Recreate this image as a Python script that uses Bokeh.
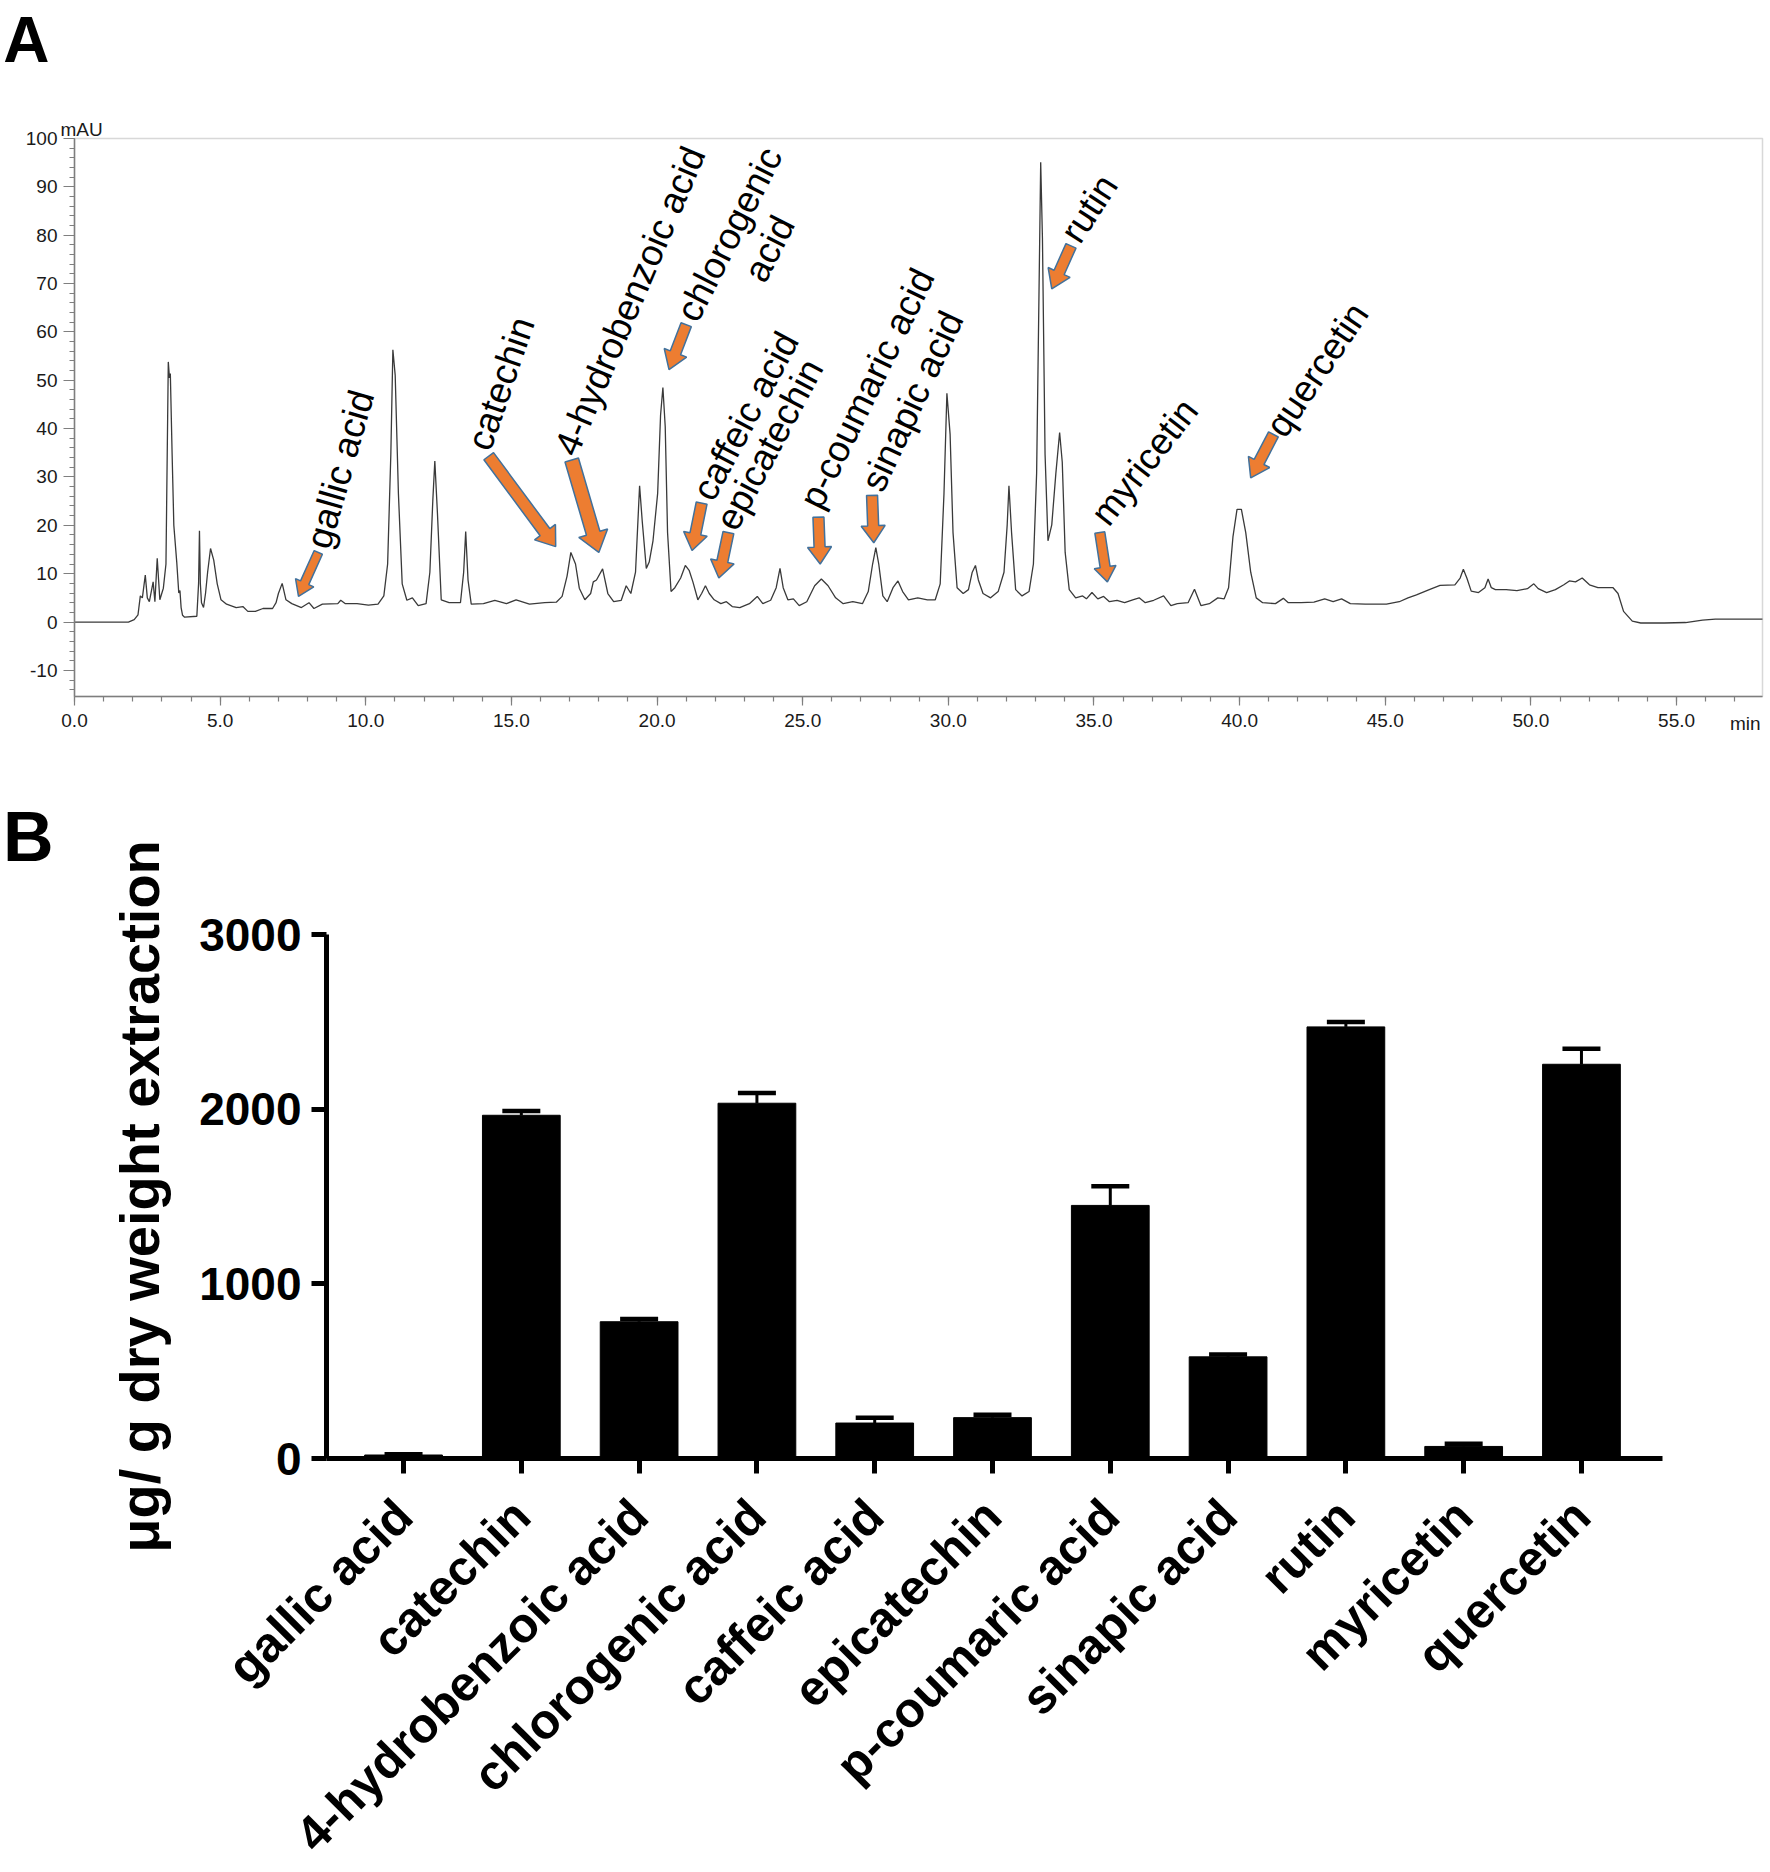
import math
from bokeh.plotting import figure
from bokeh.models import (ColumnDataSource, FixedTicker, Range1d, Label, Whisker, TeeHead, BoxAnnotation)
from bokeh.layouts import column
from bokeh.embed import file_html
from bokeh.resources import INLINE
from bokeh.core.properties import value

# ---------------- Panel A data: HPLC chromatogram ----------------
time_min = [0.00, 1.85, 2.05, 2.18, 2.26, 2.33, 2.43, 2.50, 2.57, 2.70, 2.76, 2.84, 2.93, 3.05, 3.14,
            3.22, 3.26, 3.29, 3.35, 3.41, 3.51, 3.58, 3.62, 3.66, 3.71, 3.78, 4.20, 4.26, 4.29, 4.32,
            4.36, 4.43, 4.50, 4.57, 4.67, 4.78, 4.90, 5.03, 5.22, 5.55, 5.78, 5.95, 6.21, 6.47, 6.80,
            6.92, 7.00, 7.13, 7.26, 7.46, 7.79, 8.05, 8.22, 8.51, 9.04, 9.14, 9.30, 9.70, 10.09, 10.42,
            10.62, 10.75, 10.86, 10.93, 11.01, 11.12, 11.25, 11.41, 11.60, 11.80, 12.07, 12.20, 12.30,
            12.37, 12.46, 12.59, 12.86, 13.25, 13.36, 13.43, 13.51, 13.62, 14.04, 14.43, 14.83, 15.16,
            15.62, 16.14, 16.54, 16.74, 16.91, 17.04, 17.20, 17.33, 17.52, 17.72, 17.81, 17.92, 18.13,
            18.31, 18.51, 18.77, 18.94, 19.10, 19.26, 19.40, 19.49, 19.63, 19.73, 19.86, 20.02, 20.12,
            20.20, 20.28, 20.36, 20.48, 20.61, 20.81, 20.97, 21.10, 21.23, 21.40, 21.53, 21.66, 21.79,
            21.96, 22.19, 22.38, 22.58, 22.84, 23.17, 23.44, 23.63, 23.90, 24.09, 24.22, 24.33, 24.49,
            24.68, 24.88, 25.14, 25.41, 25.64, 25.87, 26.13, 26.39, 26.72, 27.05, 27.25, 27.40, 27.51,
            27.61, 27.75, 27.90, 28.10, 28.27, 28.43, 28.63, 28.95, 29.28, 29.55, 29.72, 29.85, 29.95,
            30.06, 30.16, 30.30, 30.51, 30.69, 30.82, 30.93, 31.03, 31.19, 31.45, 31.71, 31.91, 32.02,
            32.08, 32.17, 32.31, 32.53, 32.77, 32.92, 33.03, 33.11, 33.17, 33.23, 33.32, 33.42, 33.55,
            33.69, 33.82, 33.91, 34.01, 34.15, 34.37, 34.61, 34.74, 34.93, 35.13, 35.33, 35.53, 35.79,
            36.05, 36.33, 36.55, 36.76, 37.05, 37.39, 37.64, 37.86, 38.23, 38.45, 38.67, 38.96, 39.25,
            39.47, 39.62, 39.77, 39.91, 40.06, 40.21, 40.38, 40.57, 40.79, 41.23, 41.50, 41.67, 42.11,
            42.55, 42.92, 43.21, 43.50, 43.80, 44.31, 45.04, 45.48, 45.78, 46.07, 46.51, 46.88, 47.39,
            47.57, 47.68, 47.80, 47.95, 48.20, 48.42, 48.53, 48.64, 48.78, 49.15, 49.52, 49.88, 50.10,
            50.25, 50.54, 50.84, 51.13, 51.32, 51.53, 51.76, 52.01, 52.30, 52.82, 52.99, 53.18, 53.48,
            53.77, 54.58, 55.31, 55.89, 56.33, 57.95]
absorbance_mau = [0.0, 0.0, 0.5, 1.5, 5.4, 5.0, 9.7, 5.0, 4.2, 8.3, 4.2, 13.2, 4.6, 7.0, 12.0,
                  53.8, 50.5, 51.4, 35.0, 20.0, 12.4, 6.0, 6.5, 3.0, 1.4, 1.0, 1.2, 8.0, 18.9, 8.0,
                  4.0, 3.0, 6.0, 10.3, 15.2, 12.8, 7.9, 4.6, 3.7, 3.0, 3.2, 2.2, 2.2, 2.8, 2.8,
                  4.0, 5.9, 8.0, 4.6, 3.8, 3.0, 4.0, 2.8, 3.7, 3.8, 4.5, 3.8, 3.8, 3.5, 3.7,
                  5.4, 12.0, 34.7, 56.3, 51.0, 26.6, 7.9, 4.5, 5.0, 3.4, 3.8, 10.3, 25.0,
                  33.3, 22.5, 4.6, 4.0, 4.0, 10.3, 18.7, 8.7, 3.7, 3.8, 4.5, 3.8, 4.6,
                  3.7, 4.0, 4.1, 5.3, 9.5, 14.4, 12.0, 7.0, 4.6, 5.9, 8.3, 8.7, 11.0,
                  5.9, 4.2, 4.5, 7.5, 5.9, 10.3, 28.2, 20.9, 11.1, 12.4, 16.8, 26.6, 42.8,
                  48.5, 40.4, 18.5, 6.3, 7.1, 9.1, 11.7, 10.7, 8.3, 4.6, 5.9, 7.5, 5.9,
                  4.6, 3.8, 4.2, 3.2, 3.0, 3.8, 5.3, 3.8, 4.5, 7.1, 11.1, 7.1, 4.6,
                  4.8, 3.4, 4.2, 7.5, 8.9, 7.5, 5.0, 3.8, 4.2, 3.8, 6.3, 12.0, 15.4,
                  12.0, 5.4, 4.2, 7.1, 8.5, 6.3, 4.6, 5.0, 4.6, 4.6, 7.9, 26.6, 47.3,
                  38.8, 18.5, 7.1, 5.9, 6.7, 10.3, 11.7, 8.7, 5.9, 5.0, 6.3, 10.3, 20.1,
                  28.2, 18.5, 6.7, 5.4, 6.3, 12.0, 30.7, 67.2, 95.1, 79.4, 34.7, 16.8, 20.1,
                  30.7, 39.2, 33.1, 14.4, 6.7, 5.0, 5.4, 4.8, 6.1, 4.8, 5.3, 4.2, 4.5,
                  4.0, 4.6, 5.0, 4.0, 4.5, 5.4, 3.4, 3.8, 4.0, 6.8, 3.4, 3.8, 5.0,
                  4.8, 7.1, 17.6, 23.3, 23.3, 18.5, 10.3, 5.0, 4.0, 3.8, 4.9, 4.0, 4.0,
                  4.1, 4.8, 4.2, 4.8, 3.8, 3.7, 3.7, 4.2, 5.0, 5.6, 6.7, 7.6, 7.7,
                  9.1, 10.9, 9.1, 6.4, 6.1, 7.1, 8.9, 7.1, 6.7, 6.7, 6.5, 6.9, 7.9,
                  6.9, 6.1, 6.7, 7.7, 8.5, 8.3, 9.1, 7.7, 7.1, 7.1, 5.9, 2.2, 0.2,
                  -0.2, -0.2, -0.1, 0.4, 0.6, 0.6]

x_ticks_a = [0, 5, 10, 15, 20, 25, 30, 35, 40, 45, 50, 55]
x_tick_labels_a = ["0.0", "5.0", "10.0", "15.0", "20.0", "25.0", "30.0", "35.0", "40.0", "45.0", "50.0", "55.0"]
y_ticks_a = [-10, 0, 10, 20, 30, 40, 50, 60, 70, 80, 90, 100]
y_tick_labels_a = ["-10", "0", "10", "20", "30", "40", "50", "60", "70", "80", "90", "100"]

# peak annotations (label centre in data units, rotation in degrees)
peak_labels = ["gallic acid", "catechin", "4-hydrobenzoic acid", "chlorogenic", "acid", "caffeic acid",
               "epicatechin", "p-coumaric acid", "sinapic acid", "rutin", "myricetin", "quercetin"]
peak_label_t = [9.12, 14.64, 19.07, 22.48, 23.85, 23.04, 23.86, 27.21, 28.76, 34.83, 36.73, 42.66]
peak_label_v = [31.6, 49.3, 66.4, 80.2, 77.2, 42.6, 36.7, 48.3, 45.7, 85.5, 33.1, 52.2]
peak_label_angle = [74, 71, 67, 63, 63, 62, 62, 64, 65, 57, 52, 56]

# arrows: tail -> tip in data units
arrow_tail_t = [8.37, 14.22, 17.07, 21.00, 21.53, 22.45, 25.54, 27.38, 34.21, 35.20, 41.16]
arrow_tail_v = [14.4, 34.3, 33.5, 61.5, 24.6, 18.5, 21.7, 26.2, 77.8, 18.5, 38.8]
arrow_tip_t = [7.69, 16.52, 18.00, 20.41, 21.20, 22.12, 25.60, 27.44, 33.55, 35.46, 40.38]
arrow_tip_v = [5.3, 15.6, 14.4, 52.2, 14.8, 9.1, 12.0, 16.4, 68.9, 8.3, 29.8]
arrow_shaft_px = [9, 12, 14, 11, 11, 11, 11, 11, 11, 10, 11]
arrow_head_px = [20, 26, 30, 24, 24, 24, 24, 24, 24, 22, 24]
arrow_headlen_px = [15, 18, 20, 18, 17, 17, 17, 17, 18, 15, 18]

# ---------------- Panel B data ----------------
compounds = ["gallic acid", "catechin", "4-hydrobenzoic acid", "chlorogenic acid", "caffeic acid",
             "epicatechin", "p-coumaric acid", "sinapic acid", "rutin", "myricetin", "quercetin"]
content_mean = [20, 1965, 783, 2034, 203, 234, 1449, 582, 2471, 69, 2257]
content_sem = [4, 25, 15, 58, 30, 17, 109, 13, 28, 15, 89]
y_ticks_b = [0, 1000, 2000, 3000]

FONT = "Liberation Sans"
GRAY = "#7f7f7f"

# ---------------- Panel A figure (frame = whole canvas, axes placed inside) ----------------
WA, HA = 1770, 770
A_left, A_right, A_top, A_bottom = 74, 1762, 138, 696          # pixel box of the chromatogram
t0, t1, v0, v1 = 0.0, 57.95, -15.4, 100.0
sxa = (A_right - A_left) / (t1 - t0)
sya = (A_bottom - A_top) / (v1 - v0)
pa = figure(width=WA, height=HA,
            x_range=Range1d(t0 - A_left / sxa, t1 + (WA - A_right) / sxa),
            y_range=Range1d(v0 - (HA - A_bottom) / sya, v1 + A_top / sya),
            output_backend="svg", toolbar_location=None, min_border=0, title_location=None)
pa.xgrid.visible = False
pa.ygrid.visible = False
pa.outline_line_color = None

pa.add_layout(BoxAnnotation(left=t0, right=t1, bottom=v0, top=v1, fill_color=None,
                            line_color=GRAY, line_width=1.5))
pa.line(time_min, absorbance_mau, line_color="#3a3a3a", line_width=1.3)

axs, ays = [], []
for i in range(len(arrow_tip_t)):
    px, py = arrow_tip_t[i] * sxa, arrow_tip_v[i] * sya
    qx, qy = arrow_tail_t[i] * sxa, arrow_tail_v[i] * sya
    L = math.hypot(px - qx, py - qy)
    dx, dy = (px - qx) / L, (py - qy) / L
    nx, ny = -dy, dx
    hl = arrow_headlen_px[i]
    bx, by = px - dx * hl, py - dy * hl
    s2 = arrow_shaft_px[i] / 2
    h2 = arrow_head_px[i] / 2
    pts = [(qx + nx * s2, qy + ny * s2), (bx + nx * s2, by + ny * s2), (bx + nx * h2, by + ny * h2),
           (px, py), (bx - nx * h2, by - ny * h2), (bx - nx * s2, by - ny * s2), (qx - nx * s2, qy - ny * s2)]
    axs.append([p[0] / sxa for p in pts])
    ays.append([p[1] / sya for p in pts])
pa.patches(axs, ays, fill_color="#ED7D31", line_color="#41719C", line_width=1.5)

lab_src = ColumnDataSource(dict(x=peak_label_t, y=peak_label_v, text=peak_labels,
                                angle=[math.radians(a) for a in peak_label_angle]))
pa.text(x="x", y="y", text="text", angle="angle", source=lab_src, text_font=value(FONT),
        text_font_size="37px", text_align="center", text_baseline="middle", text_color="black")

pa.xaxis.fixed_location = v0
pa.xaxis.bounds = (t0, t1)
pa.yaxis.fixed_location = t0
pa.yaxis.bounds = (v0, v1)
pa.xaxis.ticker = FixedTicker(ticks=x_ticks_a, minor_ticks=list(range(0, 58)))
pa.xaxis.major_label_overrides = dict(zip(x_ticks_a, x_tick_labels_a))
pa.yaxis.ticker = FixedTicker(ticks=y_ticks_a, minor_ticks=list(range(-14, 101, 2)))
pa.yaxis.major_label_overrides = dict(zip(y_ticks_a, y_tick_labels_a))
for ax in (pa.xaxis[0], pa.yaxis[0]):
    ax.axis_line_color = GRAY
    ax.axis_line_width = 1.5
    ax.major_tick_line_color = GRAY
    ax.minor_tick_line_color = GRAY
    ax.major_tick_line_width = 1.2
    ax.minor_tick_line_width = 1.2
    ax.major_tick_in = 0
    ax.minor_tick_in = 0
    ax.major_label_text_font = FONT
    ax.major_label_text_font_size = "19px"
    ax.major_label_text_color = "#1a1a1a"
pa.xaxis.major_tick_out = 9
pa.xaxis.minor_tick_out = 5
pa.xaxis.major_label_standoff = 8
pa.yaxis.major_tick_out = 11
pa.yaxis.minor_tick_out = 5
pa.yaxis.major_label_standoff = 6

pa.add_layout(Label(x=0.24, y=101.96, text="mAU", text_font=FONT, text_font_size="19px",
                    text_align="center", text_baseline="middle", text_color="#1a1a1a"))
pa.add_layout(Label(x=57.36, y=-21.0, text="min", text_font=FONT, text_font_size="19px",
                    text_align="center", text_baseline="middle", text_color="#1a1a1a"))
pa.add_layout(Label(x=-2.45, y=127.9, text="A", text_font=FONT, text_font_size="64px",
                    text_font_style="bold", text_align="left", text_baseline="top",
                    text_color="black"))

# ---------------- Panel B figure (frame = whole canvas, axes placed inside) ----------------
WB, HB = 1770, 1102
B_left, B_right, B_top, B_bottom = 326, 1662, 164, 688         # pixel box of the bar chart
xb0, xb1, yb0, yb1 = -0.654, 10.688, 0.0, 3000.0
sxb = (B_right - B_left) / (xb1 - xb0)
syb = (B_bottom - B_top) / (yb1 - yb0)
pb = figure(width=WB, height=HB,
            x_range=Range1d(xb0 - B_left / sxb, xb1 + (WB - B_right) / sxb),
            y_range=Range1d(yb0 - (HB - B_bottom) / syb, yb1 + B_top / syb),
            output_backend="svg", toolbar_location=None, min_border=0, title_location=None)
pb.xgrid.visible = False
pb.ygrid.visible = False
pb.outline_line_color = None

idx = list(range(len(compounds)))
src_b = ColumnDataSource(dict(x=idx, mean=content_mean,
                              upper=[m + s for m, s in zip(content_mean, content_sem)]))
pb.vbar(x="x", top="mean", width=0.66, source=src_b, fill_color="black", line_color="black")
pb.add_layout(Whisker(source=src_b, base="x", upper="upper", lower="mean", line_width=3,
                      line_color="black",
                      upper_head=TeeHead(size=38, line_width=4.5, line_color="black"),
                      lower_head=None))

pb.xaxis.fixed_location = yb0
pb.xaxis.bounds = (xb0, xb1)
pb.yaxis.fixed_location = xb0
pb.yaxis.bounds = (yb0, yb1)
pb.xaxis.ticker = FixedTicker(ticks=idx)
pb.xaxis.major_label_overrides = dict(zip(idx, compounds))
pb.xaxis.major_label_orientation = math.pi / 4
pb.yaxis.ticker = FixedTicker(ticks=y_ticks_b)
for ax in (pb.xaxis[0], pb.yaxis[0]):
    ax.axis_line_color = "black"
    ax.axis_line_width = 5
    ax.major_tick_line_color = "black"
    ax.major_tick_line_width = 5
    ax.major_tick_in = 0
    ax.major_tick_out = 15
    ax.minor_tick_line_color = None
    ax.major_label_text_font = FONT
    ax.major_label_text_font_style = "bold"
    ax.major_label_text_color = "black"
pb.xaxis.major_label_text_font_size = "49px"
pb.xaxis.major_label_standoff = 34
pb.yaxis.major_label_text_font_size = "46px"
pb.yaxis.major_label_standoff = 10
pb.yaxis.axis_label = "μg/ g dry weight extraction"
pb.yaxis.axis_label_text_font = FONT
pb.yaxis.axis_label_text_font_size = "56px"
pb.yaxis.axis_label_text_font_style = "bold"
pb.yaxis.axis_label_text_color = "black"
pb.yaxis.axis_label_standoff = 25

pb.add_layout(Label(x=-3.40, y=3561, text="B", text_font=FONT, text_font_size="70px",
                    text_font_style="bold", text_align="left", text_baseline="alphabetic",
                    text_color="black"))

layout = column(pa, pb, spacing=0)
open("out.html", "w").write(file_html(layout, INLINE))
